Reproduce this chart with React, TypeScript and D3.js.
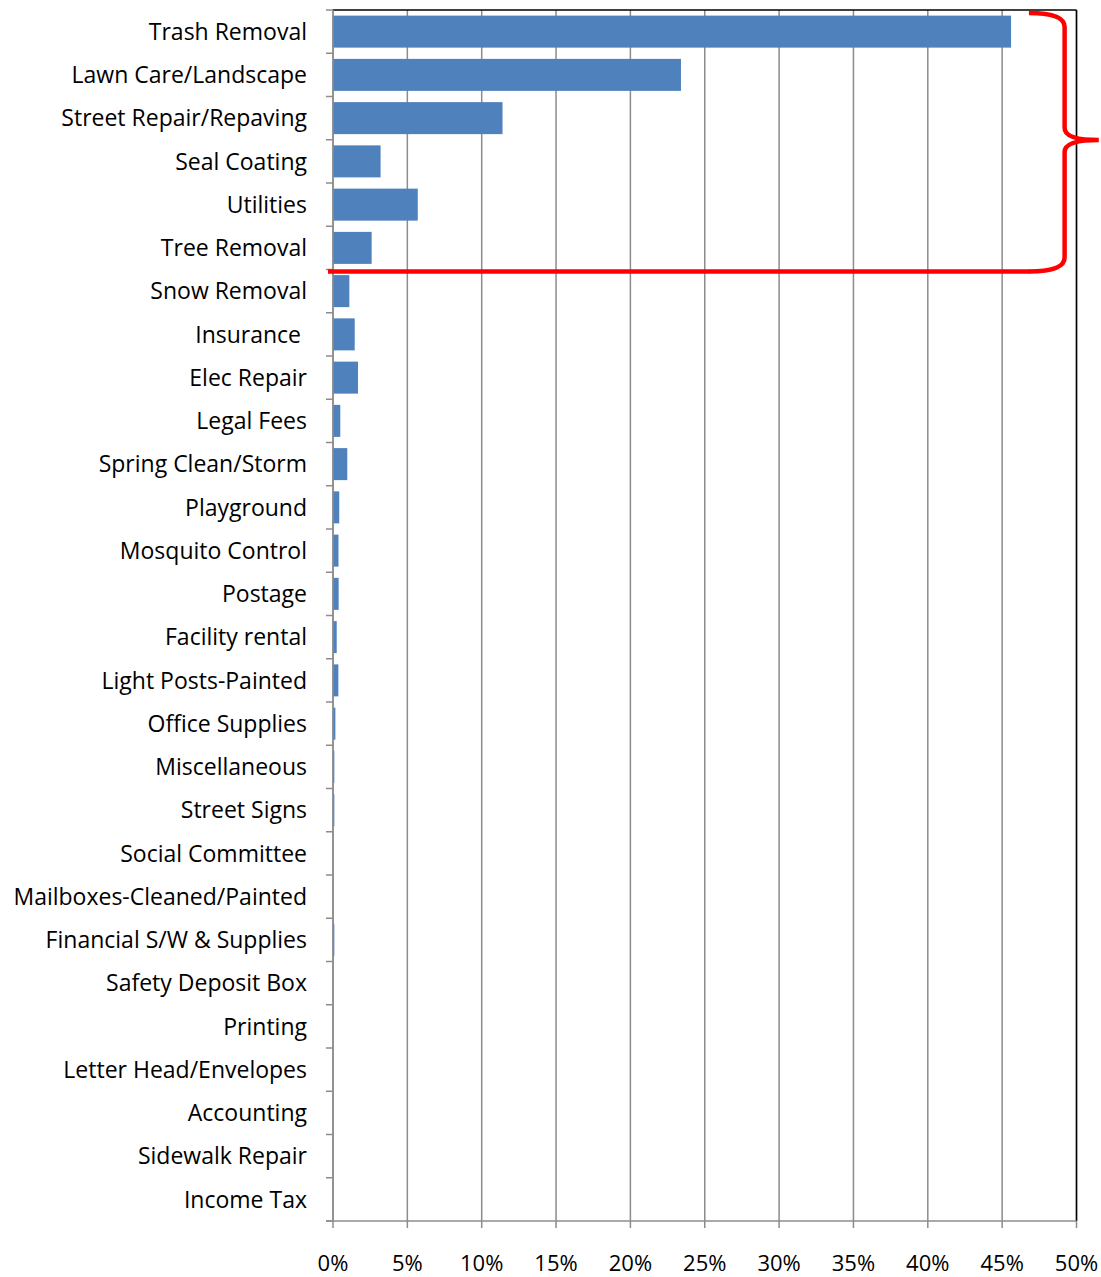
import React from "react";
import * as d3 from "d3";

const categories = [
  "Trash Removal",
  "Lawn Care/Landscape",
  "Street Repair/Repaving",
  "Seal Coating",
  "Utilities",
  "Tree Removal",
  "Snow Removal",
  "Insurance ",
  "Elec Repair",
  "Legal Fees",
  "Spring Clean/Storm",
  "Playground",
  "Mosquito Control",
  "Postage",
  "Facility rental",
  "Light Posts-Painted",
  "Office Supplies",
  "Miscellaneous",
  "Street Signs",
  "Social Committee",
  "Mailboxes-Cleaned/Painted",
  "Financial S/W & Supplies",
  "Safety Deposit Box",
  "Printing",
  "Letter Head/Envelopes",
  "Accounting",
  "Sidewalk Repair",
  "Income Tax",
];

const shares = [
  45.6, 23.4, 11.4, 3.2, 5.7, 2.6, 1.1, 1.46, 1.68, 0.49, 0.96, 0.42, 0.37,
  0.38, 0.25, 0.36, 0.16, 0.09, 0.09, 0.0, 0.02, 0.09, 0.02, 0.0, 0.0, 0.0,
  0.0, 0.0,
];

const xTicks = [0, 5, 10, 15, 20, 25, 30, 35, 40, 45, 50];

const margin = { top: 10, right: 24, bottom: 56, left: 333 };
const width = 1101;
const height = 1277;

export default function App() {
  const innerW = 1076.5 - margin.left;
  const innerH = 1221 - margin.top;

  const x = d3.scaleLinear().domain([0, 50]).range([0, innerW]);
  const y = d3
    .scaleBand<string>()
    .domain(categories)
    .range([0, innerH])
    .paddingInner(0.26)
    .paddingOuter(0.13);

  const step = y.step();
  const font = "'Open Sans', sans-serif";

  // bracket around the top six categories
  const lineY = 6 * step + 2;
  const bx0 = x(46.8);
  const bx1 = x(49.2);
  const tip = x(51.5);
  const top = 3;
  const mid = 130;
  const brace = [
    `M${bx0},${top}`,
    `Q${bx1},${top} ${bx1},${top + 14}`,
    `L${bx1},${mid - 12}`,
    `Q${bx1},${mid} ${tip},${mid}`,
    `Q${bx1},${mid} ${bx1},${mid + 12}`,
    `L${bx1},${lineY - 14}`,
    `Q${bx1},${lineY} ${bx0},${lineY}`,
  ].join(" ");

  return (
    <svg
      width={width}
      height={height}
      style={{ display: "block", position: "absolute", left: 0, top: 0 }}
    >
      <rect width={width} height={height} fill="#fff" />
      <g transform={`translate(${margin.left},${margin.top})`}>
        {xTicks.map((t) => (
          <g key={t}>
            <line
              x1={x(t)}
              x2={x(t)}
              y1={0}
              y2={innerH + 7}
              stroke="#8c8c8c"
              strokeWidth={1.5}
            />
            <text
              x={x(t)}
              y={innerH + 50}
              textAnchor="middle"
              fontFamily={font}
              fontSize={22}
              fill="#000"
            >
              {t}%
            </text>
          </g>
        ))}

        {d3.range(categories.length + 1).map((i) => (
          <line
            key={i}
            x1={-7}
            x2={0}
            y1={i * step}
            y2={i * step}
            stroke="#8c8c8c"
            strokeWidth={1.5}
          />
        ))}

        {categories.map((c, i) => (
          <rect
            key={c}
            x={0}
            y={y(c)}
            width={x(shares[i])}
            height={y.bandwidth()}
            fill="#4f81bd"
          />
        ))}

        {/* frame: black top and right, grey axes on left and bottom */}
        <line x1={0} x2={innerW} y1={0} y2={0} stroke="#000" strokeWidth={1.5} />
        <line x1={innerW} x2={innerW} y1={0} y2={innerH} stroke="#000" strokeWidth={1.5} />
        <line x1={0} x2={0} y1={0} y2={innerH} stroke="#8c8c8c" strokeWidth={1.5} />
        <line x1={-7} x2={innerW} y1={innerH} y2={innerH} stroke="#8c8c8c" strokeWidth={1.5} />

        {categories.map((c) => (
          <text
            key={c}
            x={-26}
            y={(y(c) ?? 0) + y.bandwidth() / 2}
            dy="0.36em"
            textAnchor="end"
            fontFamily={font}
            fontSize={23}
            fill="#000"
            style={{ whiteSpace: "pre" }}
          >
            {c}
          </text>
        ))}

        <line
          x1={-5}
          x2={bx0 + 1}
          y1={lineY}
          y2={lineY}
          stroke="#ff0000"
          strokeWidth={4.5}
        />
        <path d={brace} fill="none" stroke="#ff0000" strokeWidth={4.5} />
      </g>
    </svg>
  );
}
